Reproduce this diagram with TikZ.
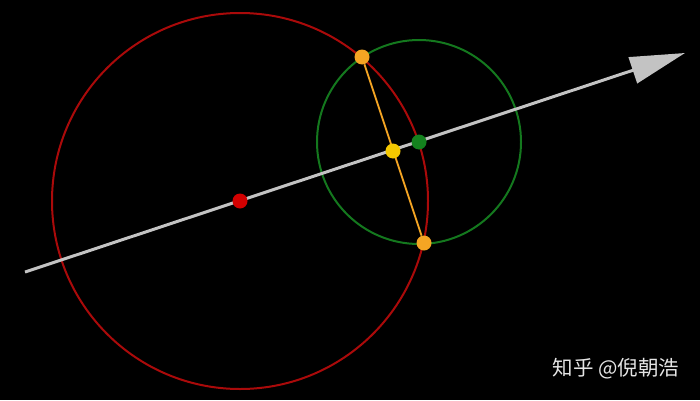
\documentclass[tikz,border=0pt]{standalone}
\usepackage{fontspec}
\newfontfamily\cjkfont{Noto Sans CJK SC}
\usetikzlibrary{arrows.meta}
\definecolor{redc}{RGB}{170,10,10}
\definecolor{greenc}{RGB}{20,120,30}
\definecolor{grayc}{RGB}{195,195,195}
\definecolor{orangec}{RGB}{245,165,35}
\definecolor{yellowc}{RGB}{245,200,0}
\definecolor{reddot}{RGB}{210,0,0}
\definecolor{greendot}{RGB}{20,130,30}
\tikzset{
  dot/.style={circle, inner sep=0pt, minimum size=15pt, draw=none},
  ring/.style={line width=2pt},
}
\begin{document}
\begin{tikzpicture}[x=1pt,y=1pt]
\fill[black] (0,0) rectangle (700,400);
\useasboundingbox (0,0) rectangle (700,400);
% circles
\draw[ring, redc] (240,199) circle (188);
\draw[ring, greenc] (419,258) circle (102);
% axis arrow
\coordinate (s) at (25,128);
\coordinate (e) at (685,347);
\draw[grayc, line width=3pt, -{Triangle[length=55pt, width=27pt]}] (s) -- (e);
% points
\node[dot, fill=orangec] (p1) at (362,343) {};
\node[dot, fill=orangec] (p2) at (424,157) {};
\draw[orangec, line width=1.8pt] (p1) -- (p2);
\node[dot, fill=yellowc] (m) at (393,249) {};
\node[dot, fill=greendot] (g) at (419,258) {};
\node[dot, fill=reddot] (r) at (240,199) {};
% watermark
\node[text=white!90!black, font=\cjkfont\fontsize{20.5}{24}\selectfont] (wm) at (616,31) {知乎 @倪朝浩};
\end{tikzpicture}
\end{document}
